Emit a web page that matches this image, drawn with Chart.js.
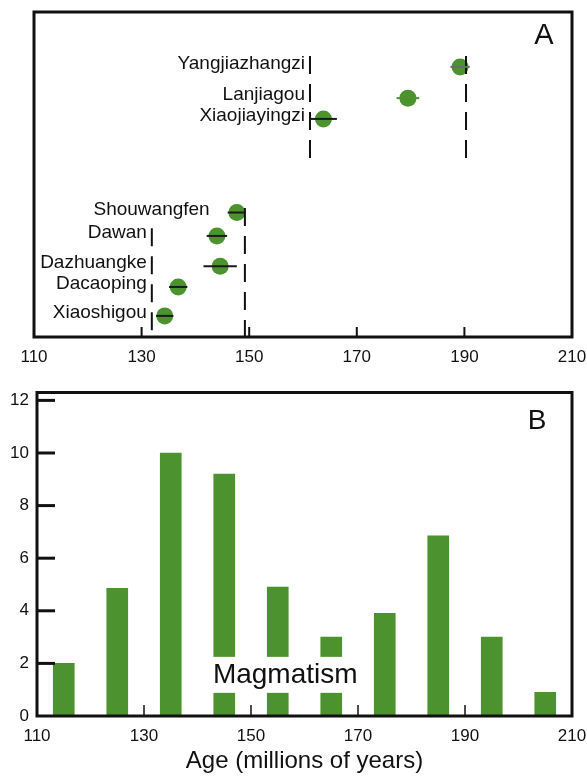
<!DOCTYPE html>
<html>
<head>
<meta charset="utf-8">
<script src="https://cdn.jsdelivr.net/npm/chart.js@4.4.1/dist/chart.umd.min.js"></script>
<style>
  html, body { margin: 0; padding: 0; background: #fff; }
  #wrap { position: relative; width: 587px; height: 776px; }
  .panel { position: absolute; left: 0; width: 587px; }
  #pa { top: 0; height: 380px; }
  #pb { top: 380px; height: 396px; }
</style>
</head>
<body>
<div id="wrap">
  <div class="panel" id="pa"><canvas id="chartA" width="587" height="380"></canvas></div>
  <div class="panel" id="pb"><canvas id="chartB" width="587" height="396"></canvas></div>
</div>
<script>
// panel A: dated sites (age in Ma, +/- error, row on the plot)
const sites = ['Yangjiazhangzi', 'Lanjiagou', 'Xiaojiayingzi', 'Shouwangfen', 'Dawan', 'Dazhuangke', 'Dacaoping', 'Xiaoshigou'];
const siteAges = [189.2, 179.5, 163.8, 147.7, 144.0, 144.6, 136.8, 134.3];
const siteErr = [1.8, 2.1, 2.5, 1.7, 1.9, 3.1, 1.7, 1.6];
const siteRows = [8.31, 7.35, 6.71, 3.83, 3.11, 2.18, 1.54, 0.65];

// panel A: dashed age limits
const dashAges = [161.3, 190.3, 131.9, 149.2];
const dashTop = [8.65, 8.65, 3.35, 3.97];
const dashBottom = [5.51, 5.51, 0, 0];

const ageTicks = [110, 130, 150, 170, 190, 210];

// panel B: histogram of magmatism ages
const binAges = [115, 125, 135, 145, 155, 165, 175, 185, 195, 205];
const binCounts = [2, 4.85, 10, 9.2, 4.9, 3, 3.9, 6.85, 3, 0.9];
const countTicks = [0, 2, 4, 6, 8, 10, 12];

const GREEN = '#4c922f';
const INK = '#111';
const FONT = '"Liberation Sans", Arial, Helvetica, sans-serif';
const errColors = ['#6b6b6b', GREEN, '#1a1a1a', '#1a1a1a', '#1a1a1a', '#1a1a1a', '#1a1a1a', '#1a1a1a'];

function seg(ctx, x1, y1, x2, y2) {
  ctx.beginPath();
  ctx.moveTo(x1, y1);
  ctx.lineTo(x2, y2);
  ctx.stroke();
}

// box around the plot, inward tick marks and the panel letter
const framePlugin = {
  id: 'frame',
  afterDraw(chart, args, opts) {
    const { ctx, chartArea: a, scales } = chart;
    ctx.save();
    ctx.strokeStyle = INK;
    ctx.lineWidth = 3;
    ctx.strokeRect(a.left, a.top, a.width, a.height);

    ctx.lineWidth = opts.xTickWidth;
    opts.xMarks.forEach(v => {
      const px = scales.x.getPixelForValue(v);
      seg(ctx, px, a.bottom, px, a.bottom - opts.xTickLen);
    });
    if (opts.yMarks) {
      ctx.lineWidth = 3;
      opts.yMarks.forEach(v => {
        const py = scales.y.getPixelForValue(v);
        seg(ctx, a.left, py, a.left + opts.yTickLen, py);
      });
    }

    ctx.fillStyle = INK;
    ctx.font = opts.letterSize + 'px ' + FONT;
    ctx.textAlign = 'center';
    ctx.textBaseline = 'middle';
    ctx.fillText(opts.letter, a.right - opts.letterDx, a.top + opts.letterDy);
    ctx.restore();
  }
};

// error bars and site names for panel A
const sitePlugin = {
  id: 'siteLabels',
  afterDatasetsDraw(chart) {
    const { ctx, scales: { x, y } } = chart;
    ctx.save();
    ctx.lineWidth = 2;
    ctx.font = '19px ' + FONT;
    ctx.fillStyle = INK;
    ctx.textAlign = 'right';
    ctx.textBaseline = 'middle';
    sites.forEach((name, i) => {
      const py = y.getPixelForValue(siteRows[i]);
      ctx.strokeStyle = errColors[i];
      seg(ctx, x.getPixelForValue(siteAges[i] - siteErr[i]), py, x.getPixelForValue(siteAges[i] + siteErr[i]), py);

      // label sits left of the dashed limit that spans its row, else left of the error bar
      let anchor = null;
      dashAges.forEach((d, k) => {
        if (d <= siteAges[i] && siteRows[i] <= dashTop[k] && siteRows[i] >= dashBottom[k]) {
          const px = x.getPixelForValue(d) - 5;
          if (anchor === null || px < anchor) anchor = px;
        }
      });
      if (anchor === null) anchor = x.getPixelForValue(siteAges[i] - siteErr[i]) - 18;
      ctx.fillText(name, anchor, py - 3);
    });
    ctx.restore();
  }
};

// "Magmatism" note over the bars, on a white patch
const notePlugin = {
  id: 'note',
  afterDatasetsDraw(chart, args, opts) {
    const { ctx, scales: { x, y } } = chart;
    ctx.save();
    ctx.font = '28px ' + FONT;
    const w = ctx.measureText(opts.text).width;
    const cx = x.getPixelForValue(opts.x);
    const by = y.getPixelForValue(opts.y);
    ctx.fillStyle = '#fff';
    ctx.fillRect(cx - w / 2 - 5, by - 26, w + 10, 36);
    ctx.fillStyle = INK;
    ctx.textAlign = 'center';
    ctx.textBaseline = 'alphabetic';
    ctx.fillText(opts.text, cx, by);
    ctx.restore();
  }
};

const tickFont = { size: 17, family: FONT };

// fixed axis sizes; edge padding kept to the half label so the box reaches x = 572
function fitX(height) {
  return s => {
    s.height = height;
    s.paddingLeft = 0;
    s.paddingRight = 15;
  };
}

const dashSets = dashAges.map((a, i) => ({
  type: 'line',
  data: [{ x: a, y: dashTop[i] }, { x: a, y: dashBottom[i] }],
  borderColor: INK,
  borderWidth: 2,
  borderDash: [18, 10],
  pointRadius: 0,
  fill: false
}));

new Chart(document.getElementById('chartA'), {
  type: 'scatter',
  data: {
    datasets: [
      ...dashSets,
      {
        data: siteAges.map((a, i) => ({ x: a, y: siteRows[i] })),
        backgroundColor: GREEN,
        borderWidth: 0,
        pointRadius: 8.5
      }
    ]
  },
  options: {
    responsive: false,
    animation: false,
    layout: { padding: { left: 34, right: 0, top: 12, bottom: 0 } },
    plugins: {
      legend: { display: false },
      tooltip: { enabled: false },
      frame: { xMarks: [130, 150, 170, 190], xTickLen: 10, xTickWidth: 2, letter: 'A', letterSize: 29, letterDx: 28, letterDy: 24 }
    },
    scales: {
      x: {
        type: 'linear',
        min: 110,
        max: 210,
        afterBuildTicks: s => { s.ticks = ageTicks.map(v => ({ value: v })); },
        afterFit: fitX(43),
        grid: { display: false, drawTicks: false },
        border: { display: false },
        ticks: { font: tickFont, color: INK, padding: 10, maxRotation: 0, autoSkip: false }
      },
      y: { type: 'linear', min: 0, max: 10, display: false }
    }
  },
  plugins: [framePlugin, sitePlugin]
});

new Chart(document.getElementById('chartB'), {
  type: 'bar',
  data: {
    datasets: [{
      data: binAges.map((a, i) => ({ x: a, y: binCounts[i] })),
      backgroundColor: GREEN,
      borderWidth: 0,
      barThickness: 21
    }]
  },
  options: {
    responsive: false,
    animation: false,
    layout: { padding: { left: 0, right: 0, top: 12.5, bottom: 0 } },
    plugins: {
      legend: { display: false },
      tooltip: { enabled: false },
      frame: { xMarks: [130, 150, 170, 190], xTickLen: 11, xTickWidth: 1.5, yMarks: countTicks.slice(1), yTickLen: 18, letter: 'B', letterSize: 28, letterDx: 35, letterDy: 28.5 },
      note: { text: 'Magmatism', x: 156.4, y: 1.26 }
    },
    scales: {
      x: {
        type: 'linear',
        min: 110,
        max: 210,
        offset: false,
        afterBuildTicks: s => { s.ticks = ageTicks.map(v => ({ value: v })); },
        afterFit: fitX(60),
        grid: { display: false, drawTicks: false },
        border: { display: false },
        ticks: { font: tickFont, color: INK, padding: 10, maxRotation: 0, autoSkip: false },
        title: { display: true, text: 'Age (millions of years)', font: { size: 24, family: FONT }, color: INK, padding: { top: 0, bottom: 0 } }
      },
      y: {
        min: 0,
        max: 12.3,
        afterBuildTicks: s => { s.ticks = countTicks.map(v => ({ value: v })); },
        afterFit: s => { s.width = 37; s.paddingTop = 0; s.paddingBottom = 0; },
        grid: { display: false, drawTicks: false },
        border: { display: false },
        ticks: { font: tickFont, color: INK, padding: 8 }
      }
    }
  },
  plugins: [framePlugin, notePlugin]
});
</script>
</body>
</html>
